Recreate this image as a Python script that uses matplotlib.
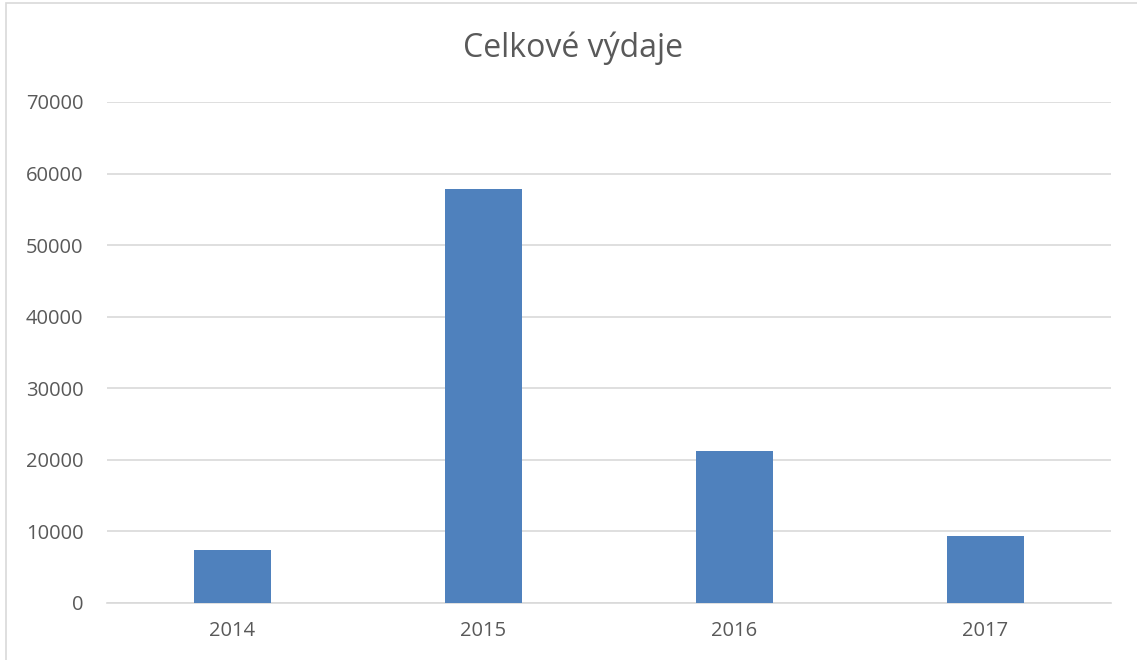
import matplotlib.pyplot as plt
from matplotlib.patches import Rectangle

# Data
years = ['2014', '2015', '2016', '2017']
expenses = [7400, 57900, 21200, 9400]
y_ticks = [0, 10000, 20000, 30000, 40000, 50000, 60000, 70000]

plt.rcParams['font.family'] = ['Open Sans', 'DejaVu Sans']

fig = plt.figure(figsize=(11.37, 6.6), dpi=100)
ax = fig.add_axes([0.0941, 0.0864, 0.8830, 0.7591])

x = range(len(years))
ax.bar(x, expenses, width=0.31, color='#4F81BD', zorder=3)

ax.set_xlim(-0.5, len(years) - 0.5)
ax.set_ylim(0, 70000)
ax.set_yticks(y_ticks)
ax.set_yticklabels([str(t) for t in y_ticks])
ax.set_xticks(list(x))
ax.set_xticklabels(years)

ax.grid(axis='y', color='#D9D9D9', linewidth=1.2, zorder=0)
for side in ['top', 'right', 'left']:
    ax.spines[side].set_visible(False)
ax.spines['bottom'].set_color('#D9D9D9')
ax.spines['bottom'].set_linewidth(1.2)
ax.tick_params(axis='both', length=0, labelsize=14.5, labelcolor='#595959')
ax.tick_params(axis='y', pad=17)
ax.tick_params(axis='x', pad=13)

fig.text(0.504, 0.927, 'Celkové výdaje', ha='center', va='center',
         fontsize=23, color='#595959')

# outer chart border (right and bottom edges fall outside the picture)
fig.patches.append(Rectangle((0.005, -0.01), 1.0, 1.005, transform=fig.transFigure,
                             fill=False, edgecolor='#D9D9D9', linewidth=1.2))

fig.savefig('out.png', dpi=100)
